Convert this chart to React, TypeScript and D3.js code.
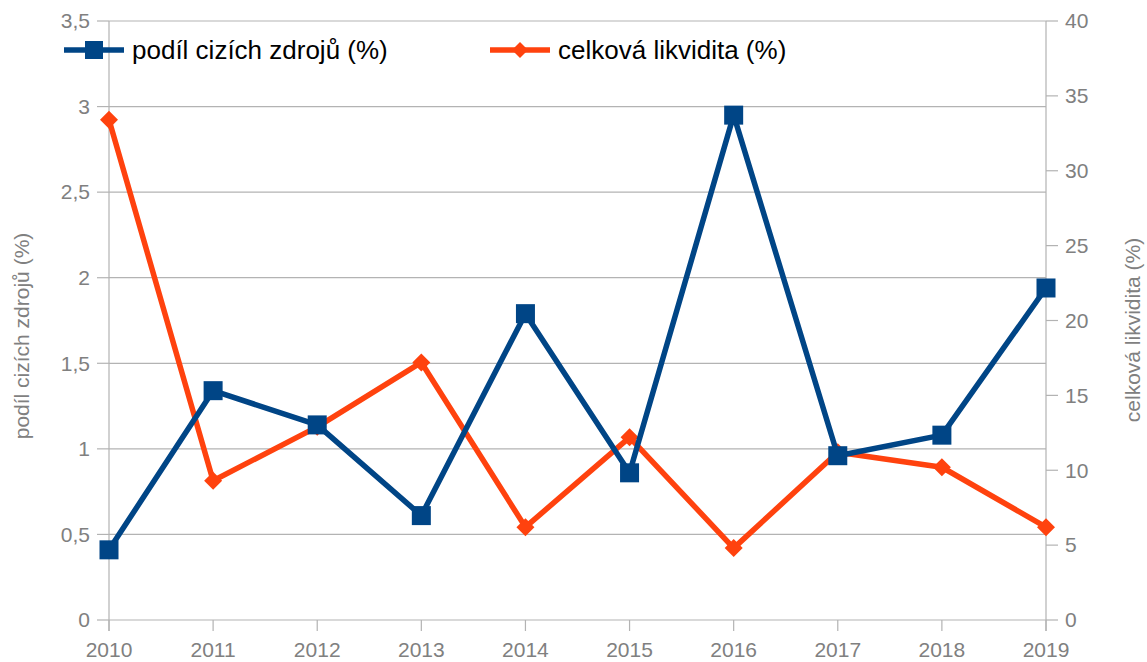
import React from "react";
import * as d3 from "d3";

const years = ["2010","2011","2012","2013","2014","2015","2016","2017","2018","2019"];
const podil = [0.41, 1.34, 1.14, 0.61, 1.79, 0.86, 2.95, 0.96, 1.08, 1.94];
const likvidita = [33.4, 9.3, 12.9, 17.2, 6.2, 12.2, 4.8, 11.2, 10.2, 6.2];
const leftTicks = [0, 0.5, 1, 1.5, 2, 2.5, 3, 3.5];
const rightTicks = [0, 5, 10, 15, 20, 25, 30, 35, 40];
const seriesNames = ["podíl cizích zdrojů (%)", "celková likvidita (%)"];

const W = 1147, H = 662;
const L = 109, R = 1046, T = 21, B = 620;
const BLUE = "#004586", ORANGE = "#ff420e", GRID = "#b3b3b3", LABEL = "#808080";
const FONT = "'Liberation Sans', Arial, sans-serif";

export default function App() {
  const x = d3.scalePoint<string>().domain(years).range([L, R]);
  const yL = d3.scaleLinear().domain([0, 3.5]).range([B, T]);
  const yR = d3.scaleLinear().domain([0, 40]).range([B, T]);
  const fmt = (v: number) => String(v).replace(".", ",");
  const lineL = d3.line<number>().x((_, i) => x(years[i])!).y(d => yL(d));
  const lineR = d3.line<number>().x((_, i) => x(years[i])!).y(d => yR(d));
  const diamond = (cx: number, cy: number, r: number) =>
    `M${cx},${cy - r}L${cx + r},${cy}L${cx},${cy + r}L${cx - r},${cy}Z`;

  return (
    <svg width={W} height={H} style={{ position: "absolute", left: 0, top: 0, background: "#fff" }} fontFamily={FONT}>
      {leftTicks.map(t => (
        <g key={"l" + t}>
          <line x1={L} x2={R} y1={yL(t)} y2={yL(t)} stroke={GRID} strokeWidth={1.2} />
          <line x1={L - 12} x2={L} y1={yL(t)} y2={yL(t)} stroke={GRID} strokeWidth={1.2} />
          <text x={90} y={yL(t)} dy="0.35em" textAnchor="end" fontSize={21} fill={LABEL}>{fmt(t)}</text>
        </g>
      ))}
      {rightTicks.map(t => (
        <g key={"r" + t}>
          <line x1={R} x2={R + 12} y1={yR(t)} y2={yR(t)} stroke={GRID} strokeWidth={1.2} />
          <text x={1065} y={yR(t)} dy="0.35em" textAnchor="start" fontSize={21} fill={LABEL}>{t}</text>
        </g>
      ))}
      {years.map(yr => (
        <g key={yr}>
          <line x1={x(yr)} x2={x(yr)} y1={B} y2={B + 11} stroke={GRID} strokeWidth={1.2} />
          <text x={x(yr)} y={657} textAnchor="middle" fontSize={21} fill={LABEL}>{yr}</text>
        </g>
      ))}
      <line x1={L} x2={L} y1={T} y2={B + 11} stroke={GRID} strokeWidth={1.2} />
      <line x1={R} x2={R} y1={T} y2={B + 11} stroke={GRID} strokeWidth={1.2} />
      <text transform={`translate(29,336) rotate(-90)`} textAnchor="middle" fontSize={21} fill={LABEL}>{seriesNames[0]}</text>
      <text transform={`translate(1140,330) rotate(-90)`} textAnchor="middle" fontSize={21} fill={LABEL}>{seriesNames[1]}</text>

      <path d={lineR(likvidita)!} fill="none" stroke={ORANGE} strokeWidth={5.5} strokeLinejoin="round" />
      {likvidita.map((v, i) => (
        <path key={"d" + i} d={diamond(x(years[i])!, yR(v), 9)} fill={ORANGE} />
      ))}
      <path d={lineL(podil)!} fill="none" stroke={BLUE} strokeWidth={5.5} strokeLinejoin="round" />
      {podil.map((v, i) => (
        <rect key={"s" + i} x={x(years[i])! - 9.5} y={yL(v) - 9.5} width={19} height={19} fill={BLUE} />
      ))}

      <line x1={64} x2={124} y1={50} y2={50} stroke={BLUE} strokeWidth={5.5} />
      <rect x={85} y={41} width={18} height={18} fill={BLUE} />
      <text x={132} y={50} dy="0.35em" fontSize={26} fill="#000">{seriesNames[0]}</text>
      <line x1={490} x2={550} y1={50} y2={50} stroke={ORANGE} strokeWidth={5.5} />
      <path d={diamond(520, 50, 8)} fill={ORANGE} />
      <text x={558} y={50} dy="0.35em" fontSize={26} fill="#000">{seriesNames[1]}</text>
    </svg>
  );
}
